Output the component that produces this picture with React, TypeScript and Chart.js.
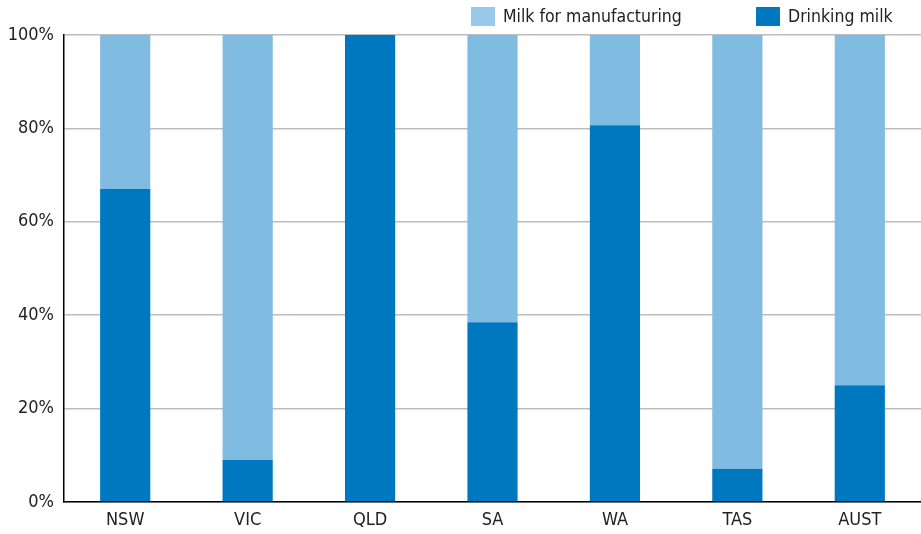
import React, { useEffect, useRef } from "react";
import { Chart, registerables } from "chart.js";

Chart.register(...registerables);

const categories = ["NSW", "VIC", "QLD", "SA", "WA", "TAS", "AUST"];
const drinkingMilk = [67, 9, 100, 38.5, 80.7, 7.1, 25];
const manufacturingMilk = drinkingMilk.map((v) => 100 - v);
const yTicks = [0, 20, 40, 60, 80, 100];

const DARK = "#0078C0";
const LIGHT = "#80BBE1";
const LEGEND_LIGHT = "#98C9EA";
const FONT = "'DejaVu Sans Condensed', 'Liberation Sans Narrow', Arial, sans-serif";

const legendPlugin = {
  id: "customLegend",
  afterDraw(chart: any) {
    const ctx = chart.ctx;
    ctx.save();
    ctx.font = `17.5px ${FONT}`;
    ctx.textBaseline = "middle";
    const items = [
      { label: "Milk for manufacturing", color: LEGEND_LIGHT, x: 471 },
      { label: "Drinking milk", color: DARK, x: 756 },
    ];
    for (const it of items) {
      ctx.fillStyle = it.color;
      ctx.fillRect(it.x, 7, 24, 19);
      ctx.fillStyle = "#222";
      ctx.fillText(it.label, it.x + 32, 17);
    }
    ctx.restore();
  },
};

export default function App() {
  const ref = useRef<HTMLCanvasElement>(null);
  useEffect(() => {
    document.body.style.margin = "0";
    const chart = new Chart(ref.current!, {
      type: "bar",
      data: {
        labels: categories,
        datasets: [
          {
            label: "Drinking milk",
            data: drinkingMilk,
            backgroundColor: DARK,
            barPercentage: 0.82,
            categoryPercentage: 0.5,
          },
          {
            label: "Milk for manufacturing",
            data: manufacturingMilk,
            backgroundColor: LIGHT,
            barPercentage: 0.82,
            categoryPercentage: 0.5,
          },
        ],
      },
      options: {
        animation: false,
        responsive: false,
        maintainAspectRatio: false,
        layout: { padding: { top: 35, right: 0, left: 0, bottom: 0 } },
        plugins: { legend: { display: false }, tooltip: { enabled: false } },
        scales: {
          x: {
            stacked: true,
            grid: { display: false, drawTicks: false },
            border: { display: true, color: "#000", width: 1.5 },
            ticks: { color: "#222", font: { family: FONT, size: 18 }, padding: 8 },
            afterFit: (s: any) => {
              s.height = 32;
            },
          },
          y: {
            stacked: true,
            min: 0,
            max: 100,
            afterBuildTicks: (s: any) => {
              s.ticks = yTicks.map((v) => ({ value: v }));
            },
            grid: { color: "#BDBDBD", lineWidth: 1.5, drawTicks: false },
            border: { display: true, color: "#000", width: 1.5 },
            ticks: {
              color: "#222",
              font: { family: FONT, size: 18 },
              padding: 10,
              callback: (v: any) => v + "%",
            },
            afterFit: (s: any) => {
              s.width = 64;
            },
          },
        },
      },
      plugins: [legendPlugin],
    });
    return () => chart.destroy();
  }, []);
  return (
    <div style={{ width: 921, height: 534 }}>
      <canvas ref={ref} width={921} height={534} style={{ display: "block" }} />
    </div>
  );
}
